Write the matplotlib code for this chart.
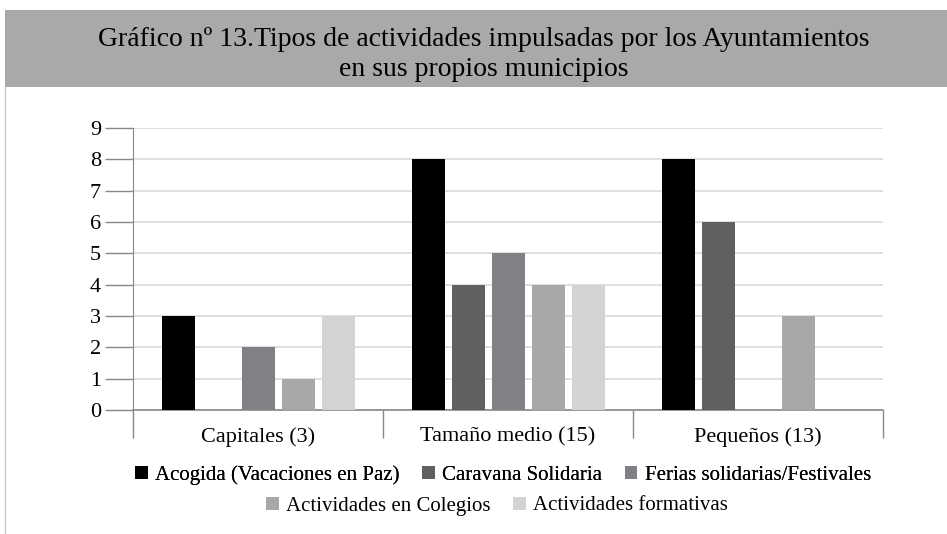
import numpy as np
import matplotlib.pyplot as plt
from matplotlib.patches import Rectangle, Patch
from matplotlib.lines import Line2D

plt.rcParams['font.family'] = ['Liberation Serif', 'DejaVu Serif']

categories = ["Capitales (3)", "Tamaño medio (15)", "Pequeños (13)"]
series_names = ["Acogida (Vacaciones en Paz)", "Caravana Solidaria",
                "Ferias solidarias/Festivales", "Actividades en Colegios",
                "Actividades formativas"]
acogida = [3, 8, 8]
caravana = [0, 4, 6]
ferias = [2, 5, 0]
colegios = [1, 4, 3]
formativas = [3, 4, 0]
series_values = [acogida, caravana, ferias, colegios, formativas]
colors = ["#000000", "#5f6062", "#808184", "#a7a8aa", "#d2d3d5"]

W, H = 947, 534
fig = plt.figure(figsize=(W / 100, H / 100), dpi=100)

# header band
fig.patches.append(Rectangle((5 / W, 1 - 87 / H), 1, 77 / H, transform=fig.transFigure,
                             facecolor="#a8a9ab", edgecolor="none"))
fig.lines.append(Line2D([5 / W, 5 / W], [0, 1 - 87 / H], transform=fig.transFigure,
                        color="#c8c8c8", lw=1))
fig.text(484 / W, 1 - 39 / H, "Gráfico nº 13.Tipos de actividades impulsadas por los Ayuntamientos",
         ha="center", va="center", fontsize=20)
fig.text(484 / W, 1 - 69 / H, "en sus propios municipios",
         ha="center", va="center", fontsize=20)

ax = fig.add_axes([133 / W, 1 - 410 / H, (883 - 133) / W, (410 - 128) / H])
x = np.arange(len(categories))
pitch = 0.16
width = 0.132
for i, (vals, c) in enumerate(zip(series_values, colors)):
    ax.bar(x + (i - 2) * pitch, vals, width, color=c, zorder=3)

ax.set_xlim(-0.5, 2.5)
ax.set_ylim(0, 9)
ax.set_yticks(range(10))
ax.yaxis.grid(True, color="#d9d9d9", lw=1.2, zorder=0)
ax.set_xticks([-0.5, 0.5, 1.5, 2.5])
ax.set_xticklabels([])
ax.set_xticks(x, minor=True)
ax.set_xticklabels(categories, minor=True, fontsize=16)
for lbl in ax.get_xticklabels(minor=True):
    lbl.set_va("baseline")
ax.tick_params(axis="x", which="major", length=20, color="#888888", width=1)
ax.tick_params(axis="x", which="minor", length=0, pad=23)
ax.tick_params(axis="y", length=20, color="#888888", width=1, labelsize=16, pad=3)
for s in ["top", "right"]:
    ax.spines[s].set_visible(False)
ax.spines["left"].set_color("#888888")
ax.spines["bottom"].set_color("#888888")
ax.spines["bottom"].set_linewidth(1.2)

handles = [Patch(facecolor=c, edgecolor="none") for c in colors]
leg1 = fig.legend(handles[:3], series_names[:3], ncol=3, loc="center",
                  bbox_to_anchor=(503 / W, 1 - 475 / H), frameon=False,
                  fontsize=15, handlelength=0.6, handleheight=0.6,
                  handletextpad=0.35, columnspacing=1.1)
fig.legend(handles[3:], series_names[3:], ncol=2, loc="center",
           bbox_to_anchor=(497 / W, 1 - 506 / H), frameon=False,
           fontsize=15, handlelength=0.6, handleheight=0.6,
           handletextpad=0.35, columnspacing=1.1)
fig.add_artist(leg1)

fig.savefig("out.png", dpi=100)
